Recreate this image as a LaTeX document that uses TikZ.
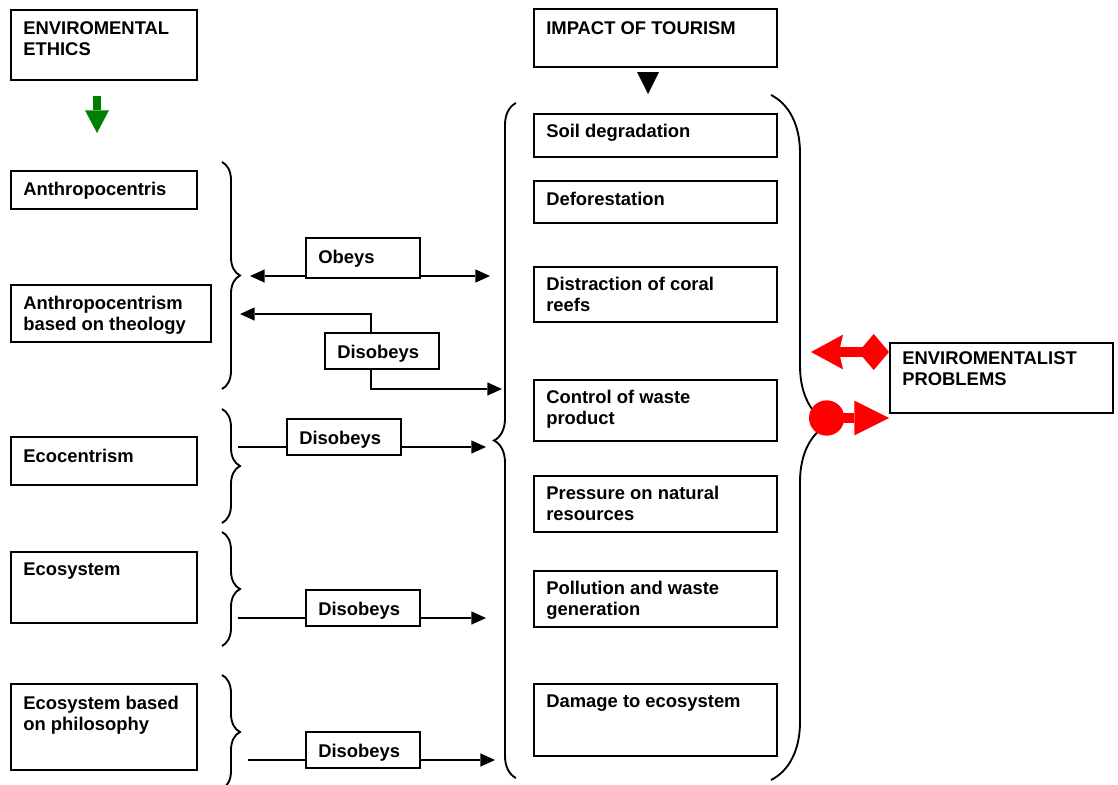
\documentclass[tikz,border=0pt]{standalone}
\usepackage{fontspec}
\setmainfont{Liberation Sans}
\usetikzlibrary{arrows.meta, positioning, fit, decorations.pathreplacing}
\definecolor{arrowgreen}{RGB}{0,128,0}
\definecolor{arrowred}{RGB}{255,0,0}

\begin{document}
\begin{tikzpicture}[x=0.75pt, y=-0.75pt,
    box/.style={draw, line width=1.4pt, inner sep=0pt},
    txt/.style={anchor=north west, inner sep=0pt, align=left, font=\fontsize{13.8}{15.75}\selectfont\bfseries},
    arr/.style={line width=1.4pt, -{Triangle[length=11pt, width=10pt, line width=0pt]}},
    curly/.style={line width=1.4pt, decorate, decoration={brace, amplitude=#1}},
    redarrow/.style={arrowred, line width=8pt}]
  \useasboundingbox (0,0) rectangle (1118,785);

  % left column
  \node[box, fit={(11,10) (197,80)}] (ethics) {};
  \node[txt] at ([shift={(13,12)}]ethics.north west) {ENVIROMENTAL\\ETHICS};
  \node[box, fit={(11,171) (197,209)}] (anthro) {};
  \node[txt] at ([shift={(13,12)}]anthro.north west) {Anthropocentris};
  \node[box, fit={(11,285) (211,342)}] (theology) {};
  \node[txt] at ([shift={(13,12)}]theology.north west) {Anthropocentrism\\based on theology};
  \node[box, fit={(11,437) (197,485)}] (eco) {};
  \node[txt] at ([shift={(13,13)}]eco.north west) {Ecocentrism};
  \node[box, fit={(11,552) (197,623)}] (ecosys) {};
  \node[txt] at ([shift={(13,12)}]ecosys.north west) {Ecosystem};
  \node[box, fit={(11,684) (197,770)}] (philo) {};
  \node[txt] at ([shift={(13,13)}]philo.north west) {Ecosystem based\\on philosophy};

  % middle column
  \node[box, fit={(534,9) (777,67)}] (impact) {};
  \node[txt] at ([shift={(13,13)}]impact.north west) {IMPACT OF TOURISM};
  \node[box, fit={(534,114) (777,157)}] (soil) {};
  \node[txt] at ([shift={(13,11)}]soil.north west) {Soil degradation};
  \node[box, fit={(534,181) (777,223)}] (forest) {};
  \node[txt] at ([shift={(13,12)}]forest.north west) {Deforestation};
  \node[box, fit={(534,267) (777,322)}] (coral) {};
  \node[txt] at ([shift={(13,11)}]coral.north west) {Distraction of coral\\reefs};
  \node[box, fit={(534,380) (777,441)}] (waste) {};
  \node[txt] at ([shift={(13,11)}]waste.north west) {Control of waste\\product};
  \node[box, fit={(534,476) (777,532)}] (pressure) {};
  \node[txt] at ([shift={(13,11)}]pressure.north west) {Pressure on natural\\resources};
  \node[box, fit={(534,571) (777,627)}] (pollution) {};
  \node[txt] at ([shift={(13,11)}]pollution.north west) {Pollution and waste\\generation};
  \node[box, fit={(534,684) (777,756)}] (damage) {};
  \node[txt] at ([shift={(13,12)}]damage.north west) {Damage to ecosystem};

  % right box
  \node[box, fit={(890,343) (1113,413)}] (problems) {};
  \node[txt] at ([shift={(13,9)}]problems.north west) {ENVIROMENTALIST\\PROBLEMS};

  % relation labels
  \node[box, fit={(306,238) (420,278)}] (obeys) {};
  \node[txt] at ([shift={(13,13)}]obeys.north west) {Obeys};
  \node[box, fit={(325,333) (439,369)}] (dis1) {};
  \node[txt] at ([shift={(13,13)}]dis1.north west) {Disobeys};
  \node[box, fit={(287,419) (401,455)}] (dis2) {};
  \node[txt] at ([shift={(13,13)}]dis2.north west) {Disobeys};
  \node[box, fit={(306,590) (420,626)}] (dis3) {};
  \node[txt] at ([shift={(13,13)}]dis3.north west) {Disobeys};
  \node[box, fit={(306,732) (420,768)}] (dis4) {};
  \node[txt] at ([shift={(13,13)}]dis4.north west) {Disobeys};

  % braces
  \draw[curly=13.5pt] (222,162) -- (222,389);
  \draw[curly=13.5pt] (222,409) -- (222,523);
  \draw[curly=13.5pt] (222,532) -- (222,646);
  \draw[curly=13.5pt] (222,675) -- (222,789);
  \draw[curly=16.5pt] (516,778) -- (516,103);
  \draw[curly=43.5pt, decoration={aspect=0.48}] (771,95) -- (771,780);

  % connectors
  \coordinate (obL) at (250,276);
  \coordinate (obR) at (490,276);
  \draw[arr] (obeys.west |- obL) -- (obL);
  \draw[arr] (obeys.east |- obR) -- (obR);
  \coordinate (d1L) at (240,314);
  \coordinate (d1R) at (502,389);
  \draw[arr] ([xshift=-8.5pt]dis1.north) |- (d1L);
  \draw[arr] ([xshift=-8.5pt]dis1.south) |- (d1R);
  \coordinate (d2L) at (238,447);
  \coordinate (d2R) at (486,447);
  \draw[line width=1.4pt] (d2L) -- (dis2.west |- d2L);
  \draw[arr] (dis2.east |- d2R) -- (d2R);
  \coordinate (d3L) at (238,618);
  \coordinate (d3R) at (486,618);
  \draw[line width=1.4pt] (d3L) -- (dis3.west |- d3L);
  \draw[arr] (dis3.east |- d3R) -- (d3R);
  \coordinate (d4L) at (248,760);
  \coordinate (d4R) at (495,760);
  \draw[line width=1.4pt] (d4L) -- (dis4.west |- d4L);
  \draw[arr] (dis4.east |- d4R) -- (d4R);

  % green and black arrows
  \coordinate (g1) at (97,96);
  \coordinate (g2) at (97,133);
  \draw[arrowgreen, line width=6pt, -{Triangle[length=17pt, width=18pt, line width=0pt]}] (g1) -- (g2);
  \fill (637,72) -- (659,72) -- (648,94) -- cycle;

  % red arrows
  \coordinate (rL) at (811,352);
  \coordinate (rC) at (809,418);
  \draw[redarrow, {Diamond[length=23pt, width=27pt, line width=0pt]}-{Stealth[length=24pt, width=26pt, inset=3pt, line width=0pt]}] (problems.west |- rL) -- (rL);
  \draw[redarrow, {Circle[length=26.5pt, line width=0pt]}-{Triangle[length=26pt, width=26pt, line width=0pt]}] (rC) -- (problems.west |- rC);
\end{tikzpicture}
\end{document}
